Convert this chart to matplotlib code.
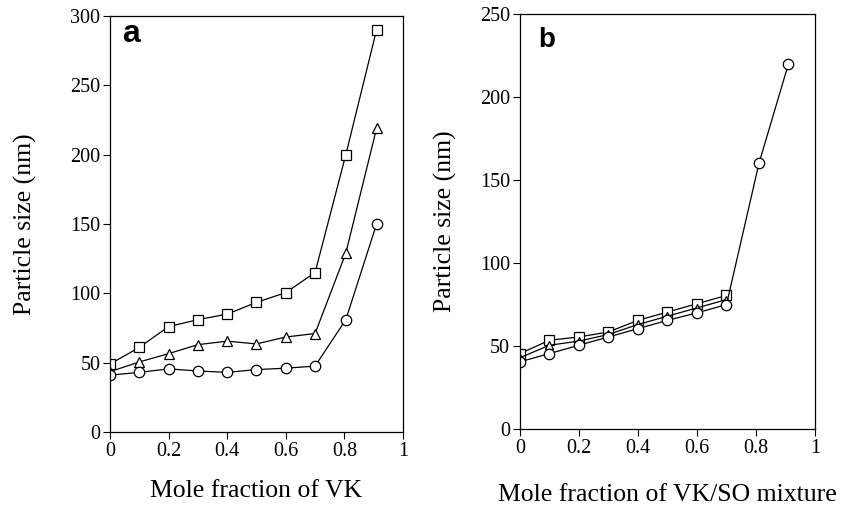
import matplotlib
matplotlib.use("Agg")
import matplotlib.pyplot as plt

# panel a: particle size vs mole fraction of VK
xa = [0, 0.1, 0.2, 0.3, 0.4, 0.5, 0.6, 0.7, 0.805, 0.91]
a_square = [49, 61, 76, 81, 85, 93.5, 100.5, 115, 200, 290]
a_triangle = [43.5, 50.5, 56.5, 63, 65.5, 63.5, 68.5, 71, 129, 219]
a_circle = [41, 43, 45.5, 44, 43, 45, 46, 47.5, 81, 150]

# panel b: particle size vs mole fraction of VK/SO mixture
xb = [0, 0.1, 0.2, 0.3, 0.4, 0.5, 0.6, 0.7]
xb_circle = [0, 0.1, 0.2, 0.3, 0.4, 0.5, 0.6, 0.7, 0.81, 0.91]
b_square = [45.5, 53.5, 55.5, 58.5, 65.5, 70.5, 75.5, 80.5]
b_triangle = [43, 50.5, 53, 57, 63, 68, 73, 78]
b_circle = [40.5, 45.5, 50.5, 55.5, 60.5, 65.5, 70, 75, 160, 220]

serif = "Liberation Serif"
tick_fs = 14.5
label_fs = 18.5

fig = plt.figure(figsize=(8.43, 5.09), dpi=100)
ax1 = fig.add_axes([0.1305, 0.1513, 0.3475, 0.8173])
ax2 = fig.add_axes([0.6168, 0.157, 0.35, 0.8155])

mk = dict(color="black", lw=0.9, markerfacecolor="white", markeredgecolor="black",
          markeredgewidth=0.9)

ax1.plot(xa, a_square, marker="s", ms=7, **mk)
ax1.plot(xa, a_triangle, marker="^", ms=7, **mk)
ax1.plot(xa, a_circle, marker="o", ms=7.5, **mk)

ax2.plot(xb, b_square, marker="s", ms=7, **mk)
ax2.plot(xb, b_triangle, marker="^", ms=6, **mk)
ax2.plot(xb_circle, b_circle, marker="o", ms=7.5, **mk)

panels = [(ax1, 300, "a", "Mole fraction of VK", 24, 14, (0.041, 0.9375), 23),
          (ax2, 250, "b", "Mole fraction of VK/SO mixture", 17, 19, (0.061, 0.92), 20)]
for ax, ymax, letter, xlab, ypad, xpad, pos, lfs in panels:
    ax.set_xlim(0, 1)
    ax.set_ylim(0, ymax)
    ax.set_xticks([0, 0.2, 0.4, 0.6, 0.8, 1])
    ax.set_xticklabels(["0", "0.2", "0.4", "0.6", "0.8", "1"])
    ax.set_yticks(range(0, ymax + 1, 50))
    ax.tick_params(direction="out", length=5, width=0.8, labelsize=tick_fs, pad=2,
                   top=False, right=False)
    for lab in ax.get_xticklabels() + ax.get_yticklabels():
        lab.set_fontfamily(serif)
    for s in ax.spines.values():
        s.set_linewidth(0.9)
    ax.set_xlabel(xlab, fontsize=label_fs, family=serif, labelpad=xpad)
    ax.set_ylabel("Particle size (nm)", fontsize=label_fs, family=serif, labelpad=ypad)
    ax.text(pos[0], pos[1], letter, transform=ax.transAxes, fontsize=lfs,
            fontweight="bold", family="Liberation Sans", va="baseline", ha="left")

fig.savefig("out.png", dpi=100)
